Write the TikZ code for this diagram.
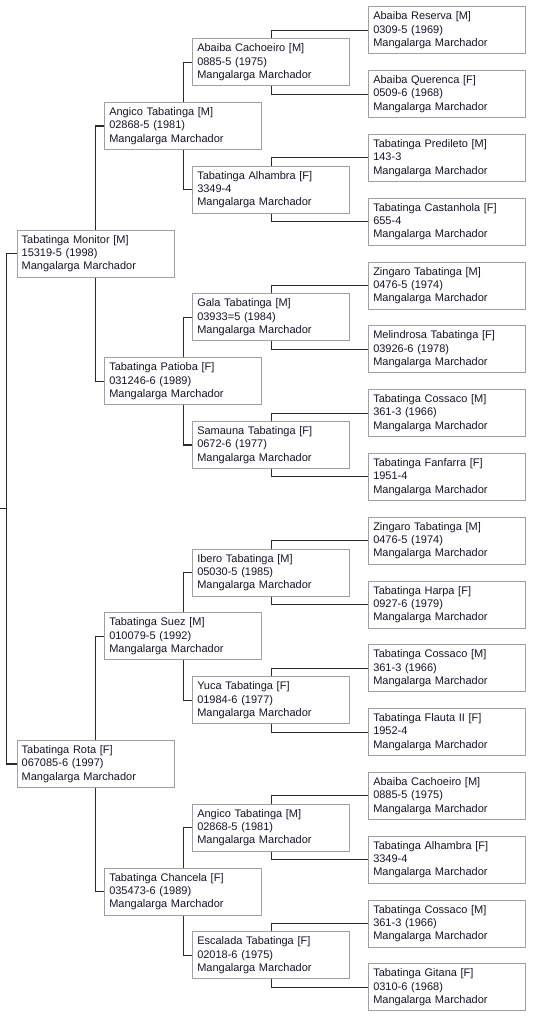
\documentclass[tikz,border=0pt]{standalone}
\usepackage{fontspec}
\setmainfont{Liberation Sans}
\usetikzlibrary{backgrounds}
\definecolor{boxgray}{HTML}{A0A0A0}
\definecolor{horsetext}{HTML}{15152A}
\definecolor{linkgray}{HTML}{2A2A2A}
\newcommand{\Horse}[3]{#1\\#2\\#3}
\begin{document}
\begin{tikzpicture}[x=1pt,y=-1pt]
	\tikzset{horse/.style={draw=boxgray, line width=0.9pt, fill=white, anchor=west,
				text width=148pt, inner xsep=4.5pt, inner ysep=0pt, minimum height=47pt,
				align=left, text=horsetext, font=\fontsize{11}{13.3}\selectfont}}
	\tikzset{link/.style={draw=linkgray, line width=1.1pt}}
	\useasboundingbox (0,0) rectangle (533,1021);
	\node[horse] (s) at (16.7,253.6) {\Horse{Tabatinga Monitor [M]}{15319-5 (1998)}{Mangalarga Marchador}};
	\node[horse] (d) at (16.7,764.0) {\Horse{Tabatinga Rota [F]}{067085-6 (1997)}{Mangalarga Marchador}};
	\node[horse] (ss) at (104.3,126.0) {\Horse{Angico Tabatinga [M]}{02868-5 (1981)}{Mangalarga Marchador}};
	\node[horse] (sd) at (104.3,381.2) {\Horse{Tabatinga Patioba [F]}{031246-6 (1989)}{Mangalarga Marchador}};
	\node[horse] (ds) at (104.3,636.4) {\Horse{Tabatinga Suez [M]}{010079-5 (1992)}{Mangalarga Marchador}};
	\node[horse] (dd) at (104.3,891.6) {\Horse{Tabatinga Chancela [F]}{035473-6 (1989)}{Mangalarga Marchador}};
	\node[horse] (sss) at (192.3,62.2) {\Horse{Abaiba Cachoeiro [M]}{0885-5 (1975)}{Mangalarga Marchador}};
	\node[horse] (ssd) at (192.3,189.8) {\Horse{Tabatinga Alhambra [F]}{3349-4}{Mangalarga Marchador}};
	\node[horse] (sds) at (192.3,317.4) {\Horse{Gala Tabatinga [M]}{03933=5 (1984)}{Mangalarga Marchador}};
	\node[horse] (sdd) at (192.3,445.0) {\Horse{Samauna Tabatinga [F]}{0672-6 (1977)}{Mangalarga Marchador}};
	\node[horse] (dss) at (192.3,572.6) {\Horse{Ibero Tabatinga [M]}{05030-5 (1985)}{Mangalarga Marchador}};
	\node[horse] (dsd) at (192.3,700.2) {\Horse{Yuca Tabatinga [F]}{01984-6 (1977)}{Mangalarga Marchador}};
	\node[horse] (dds) at (192.3,827.8) {\Horse{Angico Tabatinga [M]}{02868-5 (1981)}{Mangalarga Marchador}};
	\node[horse] (ddd) at (192.3,955.4) {\Horse{Escalada Tabatinga [F]}{02018-6 (1975)}{Mangalarga Marchador}};
	\node[horse] (ssss) at (368.3,30.3) {\Horse{Abaiba Reserva [M]}{0309-5 (1969)}{Mangalarga Marchador}};
	\node[horse] (sssd) at (368.3,94.1) {\Horse{Abaiba Querenca [F]}{0509-6 (1968)}{Mangalarga Marchador}};
	\node[horse] (ssds) at (368.3,157.9) {\Horse{Tabatinga Predileto [M]}{143-3}{Mangalarga Marchador}};
	\node[horse] (ssdd) at (368.3,221.7) {\Horse{Tabatinga Castanhola [F]}{655-4}{Mangalarga Marchador}};
	\node[horse] (sdss) at (368.3,285.5) {\Horse{Zingaro Tabatinga [M]}{0476-5 (1974)}{Mangalarga Marchador}};
	\node[horse] (sdsd) at (368.3,349.3) {\Horse{Melindrosa Tabatinga [F]}{03926-6 (1978)}{Mangalarga Marchador}};
	\node[horse] (sdds) at (368.3,413.1) {\Horse{Tabatinga Cossaco [M]}{361-3 (1966)}{Mangalarga Marchador}};
	\node[horse] (sddd) at (368.3,476.9) {\Horse{Tabatinga Fanfarra [F]}{1951-4}{Mangalarga Marchador}};
	\node[horse] (dsss) at (368.3,540.7) {\Horse{Zingaro Tabatinga [M]}{0476-5 (1974)}{Mangalarga Marchador}};
	\node[horse] (dssd) at (368.3,604.5) {\Horse{Tabatinga Harpa [F]}{0927-6 (1979)}{Mangalarga Marchador}};
	\node[horse] (dsds) at (368.3,668.3) {\Horse{Tabatinga Cossaco [M]}{361-3 (1966)}{Mangalarga Marchador}};
	\node[horse] (dsdd) at (368.3,732.1) {\Horse{Tabatinga Flauta II [F]}{1952-4}{Mangalarga Marchador}};
	\node[horse] (ddss) at (368.3,795.9) {\Horse{Abaiba Cachoeiro [M]}{0885-5 (1975)}{Mangalarga Marchador}};
	\node[horse] (ddsd) at (368.3,859.7) {\Horse{Tabatinga Alhambra [F]}{3349-4}{Mangalarga Marchador}};
	\node[horse] (ddds) at (368.3,923.5) {\Horse{Tabatinga Cossaco [M]}{361-3 (1966)}{Mangalarga Marchador}};
	\node[horse] (dddd) at (368.3,987.3) {\Horse{Tabatinga Gitana [F]}{0310-6 (1968)}{Mangalarga Marchador}};
	\coordinate (root) at (6.7,508.8);
	\coordinate (rootin) at (0,508.8);
	\begin{scope}[on background layer]
		\draw[link] (rootin) -- (root);
		\draw[link] (s.west) -| (root) |- (d.west);
		\draw[link] (ss.west) -| (s.center) |- (sd.west);
		\draw[link] (ds.west) -| (d.center) |- (dd.west);
		\draw[link] (sss.west) -| (ss.center) |- (ssd.west);
		\draw[link] (sds.west) -| (sd.center) |- (sdd.west);
		\draw[link] (dss.west) -| (ds.center) |- (dsd.west);
		\draw[link] (dds.west) -| (dd.center) |- (ddd.west);
		\draw[link] (ssss.west) -| (sss.center) |- (sssd.west);
		\draw[link] (ssds.west) -| (ssd.center) |- (ssdd.west);
		\draw[link] (sdss.west) -| (sds.center) |- (sdsd.west);
		\draw[link] (sdds.west) -| (sdd.center) |- (sddd.west);
		\draw[link] (dsss.west) -| (dss.center) |- (dssd.west);
		\draw[link] (dsds.west) -| (dsd.center) |- (dsdd.west);
		\draw[link] (ddss.west) -| (dds.center) |- (ddsd.west);
		\draw[link] (ddds.west) -| (ddd.center) |- (dddd.west);
	\end{scope}
\end{tikzpicture}
\end{document}
